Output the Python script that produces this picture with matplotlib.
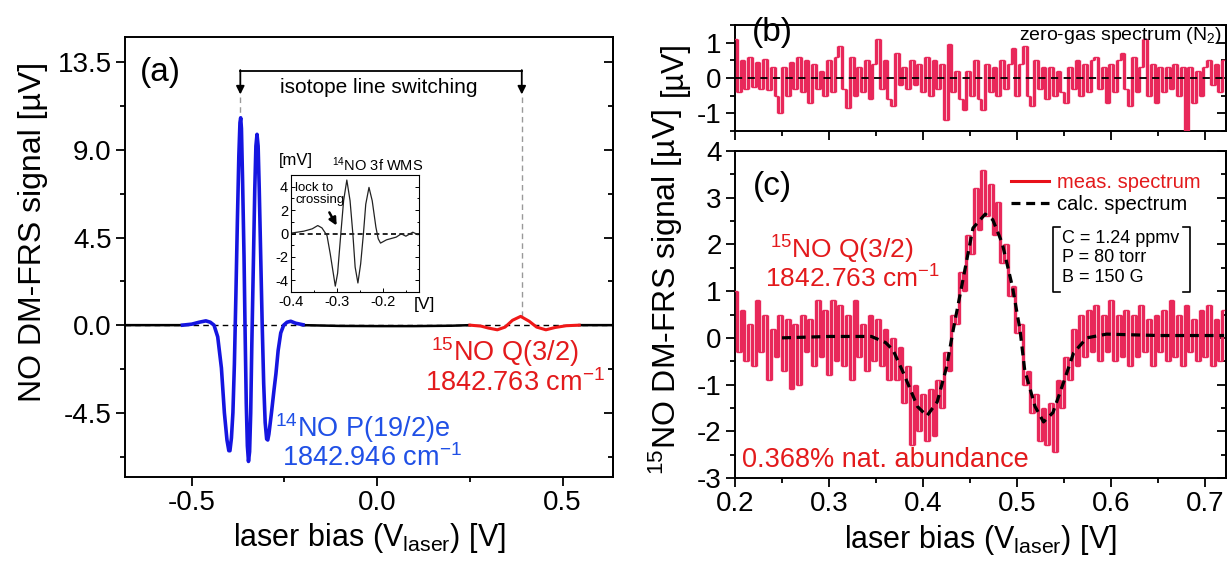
import numpy as np
import matplotlib
matplotlib.use('Agg')
import matplotlib.pyplot as plt
from matplotlib.lines import Line2D
from matplotlib.ticker import MultipleLocator, FormatStrFormatter

plt.rcParams['font.family'] = ['Liberation Sans', 'DejaVu Sans']
plt.rcParams['mathtext.fontset'] = 'custom'
plt.rcParams['mathtext.rm'] = 'Liberation Sans'
plt.rcParams['mathtext.it'] = 'Liberation Sans:italic'
plt.rcParams['axes.unicode_minus'] = False

# ---------------- data ----------------
# panel (a): 14NO P(19/2)e line (blue)
a14_x = [-0.525, -0.50, -0.48, -0.462, -0.45, -0.44, -0.43, -0.42, -0.412, -0.405,
         -0.400, -0.397, -0.393, -0.389, -0.385, -0.381, -0.377, -0.373, -0.370,
         -0.368, -0.366, -0.363, -0.359, -0.356, -0.353, -0.350, -0.347, -0.344,
         -0.341, -0.338, -0.334, -0.330, -0.327, -0.324, -0.321, -0.318, -0.314,
         -0.310, -0.306, -0.302, -0.298, -0.295, -0.292, -0.285, -0.278, -0.273,
         -0.267, -0.260, -0.252, -0.243, -0.233, -0.220, -0.200]
a14_y = [0.0, 0.05, 0.15, 0.22, 0.15, 0.0, -0.6, -2.2, -4.5, -5.9,
         -6.45, -6.45, -5.8, -4.5, -2.0, 1.5, 5.3, 8.7, 10.4,
         10.65, 10.1, 7.5, 3.5, -0.5, -4.0, -6.2, -7.0, -6.5,
         -4.5, -1.0, 3.0, 7.0, 9.2, 9.8, 9.2, 7.0, 3.5,
         0.0, -3.0, -5.0, -5.85, -5.9, -5.6, -4.5, -3.3, -2.5,
         -1.3, -0.4, 0.0, 0.15, 0.2, 0.1, 0.02]
# panel (a): 15NO Q(3/2) line (red)
a15_x = [0.25, 0.28, 0.30, 0.324, 0.345, 0.365, 0.387, 0.41, 0.43, 0.455, 0.48, 0.51, 0.545]
a15_y = [0.0, -0.05, -0.15, -0.24, -0.1, 0.25, 0.45, 0.2, -0.1, -0.24, -0.12, -0.03, 0.0]
# panel (a): black baseline
abase_x = [-0.68, -0.60, -0.525, np.nan, -0.20, -0.10, 0.0, 0.10, 0.20, 0.25, np.nan, 0.545, 0.64]
abase_y = [0.0, 0.0, 0.0, np.nan, 0.0, -0.04, -0.05, -0.05, -0.03, 0.0, np.nan, 0.0, 0.0]
# inset: 14NO 3f WMS [mV]
ins_x = [-0.400, -0.372, -0.354, -0.342, -0.333, -0.322, -0.315, -0.304, -0.299, -0.292,
         -0.286, -0.279, -0.272, -0.266, -0.261, -0.255, -0.249, -0.243, -0.238, -0.231,
         -0.224, -0.216, -0.211, -0.206, -0.193, -0.172, -0.161, -0.151, -0.136, -0.125]
ins_y = [0.03, 0.2, 0.4, 0.68, 0.48, -0.17, -1.73, -4.5, -3.4, 0.0,
         2.8, 4.57, 2.8, 0.0, -2.87, -4.23, -2.58, 0.0, 2.5, 3.94,
         2.8, 0.54, -0.45, -0.82, -0.54, -0.31, -0.03, -0.23, 0.11, -0.1]

# panels (b),(c): laser bias grid of the measured spectra
v_grid = np.round(np.arange(0.2, 0.7201, 0.004), 3)
# panel (b): zero-gas spectrum (N2) [uV]
zero_gas = [1.1, -0.4, 0.5, -0.3, 0.6, -0.25, 0.45, -0.3, 0.55, -0.35,
            0.3, -0.5, -1.0, 0.3, -0.5, 0.45, -0.3, 0.6, -0.4, 0.5,
            -0.7, 0.4, -0.3, 0.2, -0.5, 0.5, -0.4, 0.6, 0.9, -0.3,
            -0.85, 0.6, -0.5, 0.3, -0.4, 0.5, -0.6, 0.4, 1.1, -0.3,
            0.5, -0.6, -0.8, 0.7, -0.2, 0.3, -0.3, 0.5, -0.2, 0.4,
            -0.4, 0.6, -0.5, 0.5, -0.3, 0.4, -1.2, 0.95, -0.4, 0.2,
            -0.6, -0.9, 0.2, -0.5, 0.5, -0.6, -0.9, 0.4, -0.4, 0.3,
            -0.5, 0.5, -0.3, 0.4, 0.85, -0.5, 0.4, 0.9, -0.5, -0.8,
            0.5, -0.3, 0.3, -0.6, 0.3, -0.5, 0.2, -0.4, -0.7, 0.3,
            -0.3, 0.5, -0.5, 0.4, -0.4, 0.5, 0.6, -0.3, 0.3, -0.7,
            0.4, -0.4, 0.5, 0.7, -0.3, -0.8, 0.6, -0.4, 0.3, 1.1,
            -0.5, 0.4, -0.7, 0.3, -0.4, 0.3, -0.3, 0.4, -0.5, 0.3,
            -1.5, 0.3, -0.7, 0.2, -0.5, 0.3, 0.5, -0.2, 0.4, -0.4, 0.5]
# panel (c): measured 15NO spectrum [uV]
meas = [1.0, -0.3, 0.6, -0.5, 0.3, -0.6, 0.8, -0.3, 0.5, -0.9,
        0.2, -0.4, 0.5, -0.7, 0.4, -1.1, 0.3, -1.0, 0.5, -0.3,
        0.4, -0.6, 0.8, -0.4, 0.6, -0.8, 0.8, -0.5, 0.7, -0.6,
        0.5, -0.9, 0.8, -0.4, 0.3, -0.7, 0.5, -0.5, 0.4, -0.6,
        0.2, -0.9, 0.0, -0.9, -0.2, -1.4, -0.6, -2.3, -1.0, -2.0,
        -1.2, -2.2, -1.1, -2.1, -0.9, -1.5, -0.3, -0.7, 0.5, 0.3,
        1.4, 1.0, 2.2, 1.8, 3.2, 2.3, 3.6, 2.6, 3.3, 2.2,
        2.9, 1.6, 2.0, 0.9, 1.1, 0.1, 0.3, -1.0, -0.7, -1.6,
        -1.2, -2.2, -1.5, -2.3, -1.4, -2.45, -0.9, -1.5, -0.4, -0.9,
        0.2, -0.6, 0.5, -0.4, 0.6, -0.3, 0.7, -0.5, 0.5, -0.3,
        0.8, -0.5, 0.5, -0.4, 0.6, -0.6, 0.5, -0.4, 0.7, -0.3,
        0.4, -0.6, 0.5, -0.3, 0.6, -0.5, 0.8, -0.4, 0.5, -0.6,
        0.7, -0.3, 0.4, -0.5, 0.6, -0.4, 0.7, -0.6, 0.4, -0.5, 0.6]
# panel (c): calculated spectrum
calc_x = [0.25, 0.30, 0.345, 0.36, 0.368, 0.379, 0.394, 0.404, 0.415, 0.425,
          0.432, 0.445, 0.453, 0.466, 0.474, 0.484, 0.495, 0.503, 0.508, 0.519,
          0.528, 0.538, 0.549, 0.560, 0.574, 0.595, 0.65, 0.72]
calc_y = [0.0, 0.03, 0.03, -0.1, -0.26, -0.75, -1.47, -1.67, -1.37, -0.62,
          0.17, 1.52, 2.35, 2.65, 2.53, 2.03, 1.09, 0.17, -0.69, -1.47,
          -1.8, -1.6, -0.97, -0.32, 0.0, 0.08, 0.05, 0.05]

# ---------------- figure ----------------
W, H = 1227, 565
fig = plt.figure(figsize=(W / 100, H / 100), dpi=100)


def rect(l, t, r, b):
    return [l / W, 1 - b / H, (r - l) / W, (b - t) / H]


def fxy(x, y):
    return (x / W, 1 - y / H)


RED = '#E31A1C'
PINK = '#E8285A'
BLUE_L = '#1515E0'
BLUE_T = '#2050E6'
TICK = 20


def style(ax, xmaj, xmin, ymaj, ymin, xfmt, yfmt, xlabels=True):
    for s in ax.spines.values():
        s.set_linewidth(1.4)
    ax.xaxis.set_major_locator(MultipleLocator(xmaj))
    ax.xaxis.set_minor_locator(MultipleLocator(xmin))
    ax.yaxis.set_major_locator(MultipleLocator(ymaj))
    ax.yaxis.set_minor_locator(MultipleLocator(ymin))
    ax.xaxis.set_major_formatter(FormatStrFormatter(xfmt))
    ax.yaxis.set_major_formatter(FormatStrFormatter(yfmt))
    ax.tick_params(which='both', direction='out', width=1.3, labelsize=TICK,
                   top=False, right=False, labelbottom=xlabels)
    ax.tick_params(which='major', length=6.5, pad=3)
    ax.tick_params(which='minor', length=3.5)
    sec = ax.secondary_yaxis('right')
    sec.yaxis.set_major_locator(MultipleLocator(ymaj))
    sec.yaxis.set_minor_locator(MultipleLocator(ymin))
    sec.tick_params(which='both', direction='in', width=1.3, labelright=False)
    sec.tick_params(which='major', length=6.5)
    sec.tick_params(which='minor', length=3.5)
    sec.spines['right'].set_linewidth(1.4)


def noisy(ax, x, y):
    x = np.asarray(x, float)
    y = np.asarray(y, float)
    xm = (x[:-1] + x[1:]) / 2
    ax.vlines(xm, np.minimum(y[:-1], y[1:]), np.maximum(y[:-1], y[1:]),
              color=PINK, lw=2.4, zorder=3)
    ax.plot(x, y, color=PINK, lw=1.0, drawstyle='steps-mid', zorder=3)


# ---- panel (a) ----
axa = fig.add_axes(rect(125, 37, 613, 477))
axa.set_xlim(-0.68, 0.636)
axa.set_ylim(-7.8, 14.8)
style(axa, 0.5, 0.25, 4.5, 2.25, '%.1f', '%.1f')
axa.axhline(0, color='k', lw=1.0, dashes=(4, 3), zorder=4)
axa.plot(abase_x, abase_y, color='k', lw=1.8, zorder=3)
axa.plot(a14_x, a14_y, color=BLUE_L, lw=2.6, zorder=5)
axa.plot(a15_x, a15_y, color='#F01818', lw=2.2, zorder=5)
# isotope switching bracket
xl, xr, ytop, yarr = -0.369, 0.39, 13.07, 11.85
axa.plot([xl, xr], [ytop, ytop], color='k', lw=1.3)
for xx in (xl, xr):
    axa.annotate('', xy=(xx, yarr), xytext=(xx, ytop + 0.03),
                 arrowprops=dict(arrowstyle='-|>', color='k', lw=1.3,
                                 mutation_scale=12, shrinkA=0, shrinkB=0))
axa.plot([xl, xl], [11.7, 10.7], color='#999999', lw=1.0, dashes=(4, 3))
axa.plot([xr, xr], [11.7, 0.45], color='#999999', lw=1.0, dashes=(4, 3))
axa.text(0.005, 12.2, 'isotope line switching', fontsize=15, ha='center', va='center')
fig.text(*fxy(160, 72), '(a)', fontsize=24, ha='center', va='center')
fig.text(*fxy(363, 428), r'$^{\mathregular{14}}$NO P(19/2)e', fontsize=19.5,
         color=BLUE_T, ha='center', va='center')
fig.text(*fxy(372, 458), r'1842.946 cm$^{\mathregular{-1}}$', fontsize=19.5,
         color=BLUE_T, ha='center', va='center')
fig.text(*fxy(505, 352), r'$^{\mathregular{15}}$NO Q(3/2)', fontsize=19.5,
         color=RED, ha='center', va='center')
fig.text(*fxy(515, 383), r'1842.763 cm$^{\mathregular{-1}}$', fontsize=19.5,
         color=RED, ha='center', va='center')
fig.text(*fxy(33, 232), 'NO DM-FRS signal [µV]', fontsize=23, rotation=90,
         ha='center', va='center')
fig.text(*fxy(369, 546), r'laser bias (V$_{\mathregular{laser}}$) [V]', fontsize=22,
         ha='center', va='baseline')

# ---- inset ----
axi = fig.add_axes(rect(291, 175, 419, 292))
axi.set_xlim(-0.4, -0.1226)
axi.set_ylim(-5, 5)
for s in axi.spines.values():
    s.set_linewidth(0.8)
axi.xaxis.set_major_locator(MultipleLocator(0.1))
axi.xaxis.set_minor_locator(MultipleLocator(0.05))
axi.yaxis.set_major_locator(MultipleLocator(2))
axi.yaxis.set_minor_locator(MultipleLocator(1))
axi.xaxis.set_major_formatter(FormatStrFormatter('%.1f'))
axi.yaxis.set_major_formatter(FormatStrFormatter('%d'))
axi.tick_params(which='both', direction='in', width=0.7, labelsize=10.5, pad=2,
                right=True)
axi.tick_params(which='major', length=3)
axi.tick_params(which='minor', length=1.8)
axi.axhline(0, color='k', lw=1.2, dashes=(3, 2))
axi.plot(ins_x, ins_y, color='#222222', lw=0.9)
fig.text(*fxy(296, 161), '[mV]', fontsize=12, ha='center', va='center')
fig.text(*fxy(378, 165), r'$^{\mathregular{14}}$NO 3f WMS', fontsize=10.5,
         ha='center', va='center')
fig.text(*fxy(424, 304), '[V]', fontsize=12.5, ha='center', va='center')
fig.text(*fxy(295, 182), 'lock to\ncrossing', fontsize=9.5, ha='left', va='top',
         linespacing=1.0)
fig.add_artist(matplotlib.patches.FancyArrowPatch(
    fxy(328, 210), fxy(338, 228), transform=fig.transFigure,
    arrowstyle='-|>', mutation_scale=11, color='k', lw=1.8))

# ---- panel (b) ----
axb = fig.add_axes(rect(735, 25, 1226, 131))
axb.set_xlim(0.2, 0.722)
axb.set_ylim(-1.5, 1.5)
style(axb, 0.1, 0.05, 1, 0.5, '%.1f', '%d', xlabels=False)
noisy(axb, v_grid, zero_gas)
axb.axhline(0, color='k', lw=1.3, dashes=(4, 3), zorder=4)
fig.text(*fxy(772, 33), '(b)', fontsize=24, ha='center', va='center')
fig.text(*fxy(1222, 35), r'zero-gas spectrum (N$_{\mathregular{2}}$)', fontsize=14,
         ha='right', va='center')
fig.text(*fxy(674, 69), '[µV]', fontsize=22, rotation=90, ha='center', va='center')

# ---- panel (c) ----
axc = fig.add_axes(rect(735, 151, 1226, 478))
axc.set_xlim(0.2, 0.722)
axc.set_ylim(-3, 4)
style(axc, 0.1, 0.05, 1, 0.5, '%.1f', '%d')
noisy(axc, v_grid, meas)
axc.plot(calc_x, calc_y, color='k', lw=2.3, dashes=(2.8, 1.8), zorder=4)
leg = axc.legend(handles=[Line2D([], [], color='#E8101A', lw=2.2),
                          Line2D([], [], color='k', lw=2.3, dashes=(2.8, 1.8))],
                 labels=['meas. spectrum', 'calc. spectrum'],
                 loc='upper left', bbox_to_anchor=fxy(1011, 173),
                 bbox_transform=fig.transFigure, frameon=False, fontsize=14.5,
                 handlelength=1.9, handletextpad=0.4, labelspacing=0.15,
                 borderpad=0, borderaxespad=0)
leg.get_texts()[0].set_color(RED)
# parameter box with square brackets
for (x0, x1) in ((1053, 1060), (1190, 1183)):
    fig.add_artist(Line2D([x1 / W, x0 / W, x0 / W, x1 / W],
                          [1 - 227 / H, 1 - 227 / H, 1 - 292 / H, 1 - 292 / H],
                          transform=fig.transFigure, color='k', lw=1.2))
for yy, s in ((238, 'C = 1.24 ppmv'), (258, 'P = 80 torr'), (278, 'B = 150 G')):
    fig.text(*fxy(1062, yy), s, fontsize=13, ha='left', va='center')
fig.text(*fxy(772, 186), '(c)', fontsize=24, ha='center', va='center')
fig.text(*fxy(842, 259), r'$^{\mathregular{15}}$NO Q(3/2)', fontsize=19,
         color=RED, ha='center', va='baseline')
fig.text(*fxy(852, 288), r'1842.763 cm$^{\mathregular{-1}}$', fontsize=19,
         color=RED, ha='center', va='baseline')
fig.text(*fxy(885, 460), '0.368% nat. abundance', fontsize=19.5, color=RED,
         ha='center', va='center')
fig.text(*fxy(666, 292), r'$^{\mathregular{15}}$NO DM-FRS signal [µV]', fontsize=23,
         rotation=90, ha='center', va='center')
fig.text(*fxy(980, 548), r'laser bias (V$_{\mathregular{laser}}$) [V]', fontsize=22,
         ha='center', va='baseline')

fig.savefig('out.png', dpi=100)
